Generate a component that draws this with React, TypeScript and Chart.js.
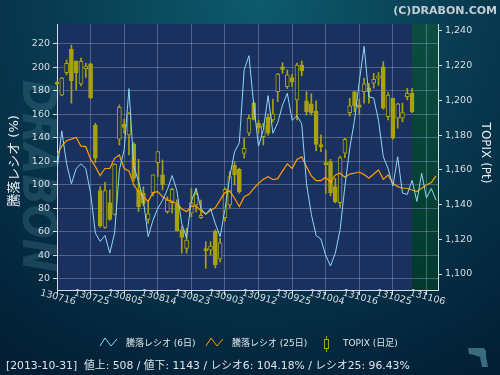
import React, { useEffect, useRef } from "react";
import { Chart, registerables } from "chart.js";
Chart.register(...registerables);

// ---- data ----
const xTickLabels = ["130716", "130725", "130805", "130814", "130823", "130903", "130912", "130925", "131004", "131016", "131025", "131106"];
const tickStep = 7;
const lastCandleIndex = 74;
const leftTicks = [20, 40, 60, 80, 100, 120, 140, 160, 180, 200, 220];
const rightTicks = [1100, 1120, 1140, 1160, 1180, 1200, 1220, 1240];

const topixOpen = [1210.3, 1203.0, 1216.0, 1229.5, 1222.5, 1209.5, 1218.3, 1221.0, 1185.7, 1148.0, 1126.9, 1141.1, 1134.3, 1177.6, 1186.4, 1180.1, 1174.9, 1148.4, 1146.5, 1131.5, 1146.5, 1164.1, 1157.1, 1135.9, 1141.1, 1140.2, 1125.4, 1114.8, 1135.0, 1139.8, 1132.5, 1114.6, 1113.8, 1124.6, 1108.5, 1132.4, 1139.8, 1162.8, 1160.3, 1169.5, 1181.1, 1198.4, 1186.8, 1179.1, 1190.3, 1188.7, 1205.0, 1219.4, 1207.9, 1213.1, 1200.3, 1220.4, 1199.7, 1198.0, 1193.9, 1174.3, 1164.1, 1164.7, 1150.3, 1141.1, 1169.6, 1192.9, 1205.0, 1197.4, 1205.0, 1207.3, 1209.9, 1212.8, 1219.4, 1190.6, 1201.2, 1189.7, 1189.7, 1202.2, 1204.1];
const topixClose = [1209.3, 1212.8, 1221.4, 1211.4, 1216.0, 1222.5, 1219.8, 1201.6, 1166.7, 1127.7, 1148.0, 1131.5, 1163.2, 1196.0, 1184.5, 1192.2, 1155.1, 1138.8, 1140.7, 1134.6, 1157.1, 1170.5, 1151.3, 1142.6, 1148.8, 1125.0, 1121.1, 1119.6, 1141.1, 1146.1, 1133.8, 1113.4, 1116.1, 1105.2, 1118.0, 1148.8, 1156.1, 1157.1, 1147.4, 1172.4, 1189.7, 1189.1, 1184.0, 1185.3, 1181.1, 1192.2, 1215.1, 1217.9, 1214.7, 1210.8, 1220.4, 1217.1, 1193.5, 1193.0, 1174.7, 1173.4, 1163.0, 1146.9, 1141.7, 1167.0, 1177.6, 1196.8, 1196.8, 1196.0, 1209.5, 1205.0, 1212.2, 1214.1, 1195.5, 1203.1, 1178.2, 1198.0, 1193.0, 1204.1, 1193.5];
const topixHigh = [1210.8, 1213.3, 1223.3, 1231.9, 1222.8, 1224.3, 1221.4, 1221.5, 1186.8, 1150.3, 1152.8, 1148.4, 1163.5, 1197.4, 1189.1, 1193.0, 1175.7, 1166.1, 1150.3, 1141.7, 1157.2, 1170.6, 1165.7, 1144.5, 1149.5, 1142.8, 1127.3, 1126.3, 1149.2, 1149.2, 1142.6, 1118.6, 1118.6, 1125.5, 1120.6, 1149.6, 1159.0, 1164.7, 1161.0, 1178.2, 1191.6, 1199.3, 1188.7, 1186.8, 1192.2, 1200.7, 1215.6, 1221.7, 1217.5, 1215.0, 1221.5, 1222.7, 1205.0, 1203.8, 1199.7, 1180.1, 1171.5, 1166.0, 1155.1, 1168.0, 1178.2, 1201.2, 1205.2, 1200.7, 1212.8, 1209.8, 1215.6, 1216.1, 1222.3, 1204.5, 1201.2, 1198.4, 1198.4, 1207.0, 1207.0];
const topixLow = [1208.8, 1202.7, 1214.7, 1198.4, 1206.0, 1208.3, 1213.3, 1201.0, 1164.1, 1126.9, 1126.3, 1131.0, 1134.0, 1174.3, 1181.0, 1168.6, 1153.4, 1136.0, 1139.4, 1129.2, 1145.0, 1156.1, 1148.4, 1135.0, 1135.0, 1124.8, 1112.0, 1112.0, 1133.0, 1135.7, 1132.0, 1103.3, 1111.0, 1103.5, 1107.0, 1130.4, 1138.0, 1151.3, 1146.5, 1166.7, 1179.7, 1188.7, 1181.1, 1174.3, 1180.0, 1187.6, 1199.3, 1215.6, 1206.8, 1208.0, 1188.7, 1214.1, 1191.6, 1191.6, 1170.9, 1170.5, 1146.5, 1145.0, 1141.0, 1138.4, 1167.0, 1191.0, 1193.5, 1192.0, 1198.4, 1198.4, 1207.0, 1208.7, 1195.0, 1188.7, 1177.6, 1184.0, 1187.6, 1200.3, 1193.0];

const ratio6 = [112, 146, 118, 101, 114, 118, 114, 93, 59, 52, 57, 42, 59, 113, 130, 182, 116, 103, 87, 56, 70, 80, 87, 96, 108, 95, 67, 55, 86, 97, 80, 75, 80, 67, 56, 79, 107, 128, 136, 198, 210, 168, 133, 147, 176, 144, 153, 168, 178, 155, 159, 152, 101, 75, 57, 54, 40, 31, 42, 62, 99, 131, 155, 188, 218, 175, 174, 155, 124, 114, 99, 124, 93, 92, 104, 86, 110, 89, 97, 87];
const ratio25 = [125.5, 133, 137.7, 139, 140.5, 133, 132.6, 122, 115.6, 108, 114, 114, 122.7, 125.5, 114, 112, 100, 94.4, 90, 86, 93.5, 94.4, 90, 87.3, 86, 84, 79.6, 77.3, 82, 82, 78, 75.3, 78.2, 80.7, 87.3, 93.5, 95, 88.7, 81.6, 90, 92, 97, 101.4, 104.8, 107, 104.5, 105.4, 112, 118, 114, 121.8, 124, 115.6, 107.7, 103.7, 103.7, 106.5, 102.3, 108.5, 110, 106.5, 109.3, 110, 111, 108.8, 105.7, 109.3, 112.7, 104.8, 108.5, 101.4, 98.6, 97.2, 97.2, 95.7, 94.4, 97.2, 100, 102, 107.7];

const legendLabels = ["騰落レシオ (6日)", "騰落レシオ (25日)", "TOPIX (日足)"];
const leftTitle = "騰落レシオ (%)";
const rightTitle = "TOPIX (Pt)";
const copyright = "(C)DRABON.COM";
const watermark = "DRABON";
const summary = "[2013-10-31]  値上: 508 / 値下: 1143 / レシオ6: 104.18% / レシオ25: 96.43%";

// ---- styles ----
const FONT = '"DejaVu Sans", "Noto Sans CJK JP", sans-serif';
const PLOT_BG = "#1a3160";
const CANDLE = "#aaa20a";
const BLUE = "#8ed6f4";
const ORANGE = "#ff9c00";
const AXIS = "#d6dce6";
const GRID = "rgba(140,160,200,0.45)";
const TICK_TEXT = "#d8dee6";

const bgPlugin = {
  id: "bgPlugin",
  beforeDraw(chart: any) {
    const { ctx, chartArea: ca, width, height } = chart;
    ctx.save();
    const g = ctx.createRadialGradient(260, 0, 0, 260, 0, 430);
    g.addColorStop(0, "#0d5b6c");
    g.addColorStop(0.5, "#083a50");
    g.addColorStop(1, "#021f35");
    ctx.fillStyle = g;
    ctx.fillRect(0, 0, width, height);

    ctx.save();
    ctx.translate(35, 176);
    ctx.rotate(Math.PI / 2);
    ctx.scale(0.865, 1);
    ctx.font = `italic bold 46px ${FONT}`;
    ctx.fillStyle = "rgba(70,120,140,0.33)";
    ctx.textAlign = "center";
    ctx.textBaseline = "middle";
    ctx.fillText(watermark, 0, 0);
    ctx.restore();

    ctx.fillStyle = PLOT_BG;
    ctx.fillRect(ca.left, ca.top, ca.right - ca.left, ca.bottom - ca.top);
    const xs = chart.scales.x;
    const gx = Math.round(xs.getPixelForValue(lastCandleIndex));
    const gg = ctx.createLinearGradient(0, ca.top, 0, ca.bottom);
    gg.addColorStop(0, "#0b4d3f");
    gg.addColorStop(1, "#03392d");
    ctx.fillStyle = gg;
    ctx.fillRect(gx, ca.top, ca.right - gx, ca.bottom - ca.top);
    ctx.restore();
  },
  afterDraw(chart: any) {
    const { ctx } = chart;
    const xs = chart.scales.x;
    ctx.save();
    // copyright
    ctx.font = `bold 11px ${FONT}`;
    ctx.fillStyle = "#c5ccd3";
    ctx.textAlign = "right";
    ctx.textBaseline = "alphabetic";
    ctx.fillText(copyright, 497, 14);

    // axis titles
    ctx.fillStyle = "#e8eef2";
    ctx.textAlign = "center";
    ctx.textBaseline = "middle";
    ctx.save();
    ctx.translate(15, 161);
    ctx.rotate(-Math.PI / 2);
    ctx.font = `13px ${FONT}`;
    ctx.fillText(leftTitle, 0, 0);
    ctx.restore();
    ctx.save();
    ctx.translate(485, 153);
    ctx.rotate(Math.PI / 2);
    ctx.font = `12px ${FONT}`;
    ctx.fillText(rightTitle, 0, 0);
    ctx.restore();

    // x labels (rotated)
    ctx.font = `9.5px ${FONT}`;
    ctx.fillStyle = TICK_TEXT;
    xTickLabels.forEach((lab, k) => {
      const px = xs.getPixelForValue(k * tickStep);
      ctx.save();
      ctx.translate(px + 1, 297.5);
      ctx.rotate((15 * Math.PI) / 180);
      ctx.fillText(lab, 0, 0);
      ctx.restore();
    });

    // legend
    ctx.font = `9px ${FONT}`;
    ctx.textAlign = "left";
    ctx.fillStyle = "#dfe5ea";
    ctx.lineWidth = 1;
    ctx.strokeStyle = BLUE;
    ctx.beginPath();
    ctx.moveTo(100, 346); ctx.lineTo(105, 338); ctx.lineTo(111, 346); ctx.lineTo(117, 339);
    ctx.stroke();
    ctx.fillText(legendLabels[0], 126, 344);
    ctx.strokeStyle = ORANGE;
    ctx.beginPath();
    ctx.moveTo(206, 346); ctx.lineTo(211, 338); ctx.lineTo(217, 346); ctx.lineTo(223, 339);
    ctx.stroke();
    ctx.fillText(legendLabels[1], 232, 344);
    ctx.strokeStyle = CANDLE;
    ctx.beginPath();
    ctx.moveTo(326.5, 336); ctx.lineTo(326.5, 352);
    ctx.stroke();
    ctx.fillStyle = "#0a2a40";
    ctx.fillRect(324, 339, 5, 10);
    ctx.strokeRect(324.5, 339.5, 4, 9);
    ctx.fillStyle = "#dfe5ea";
    ctx.fillText(legendLabels[2], 343, 344);

    // summary line
    ctx.font = `10.8px ${FONT}`;
    ctx.fillText(summary, 6, 366);

    // small logo mark
    ctx.fillStyle = "#3c6b7f";
    ctx.beginPath();
    ctx.moveTo(468, 348); ctx.lineTo(484, 348); ctx.lineTo(486, 351); ctx.lineTo(486, 356);
    ctx.lineTo(488, 367); ctx.lineTo(482, 367); ctx.lineTo(480, 357); ctx.lineTo(474, 355); ctx.lineTo(469, 354);
    ctx.closePath();
    ctx.fill();
    ctx.restore();
  },
};

export default function App() {
  const ref = useRef<HTMLCanvasElement | null>(null);
  useEffect(() => {
    if (!ref.current) return;
    const idx = topixOpen.map((_, i) => i);
    const chart = new Chart(ref.current, {
      type: "bar",
      data: {
        datasets: [
          {
            type: "line",
            data: ratio6.map((v, i) => ({ x: i, y: v })),
            yAxisID: "y",
            borderColor: BLUE,
            borderWidth: 1,
            pointRadius: 0,
            tension: 0,
            order: 0,
          } as any,
          {
            type: "line",
            data: ratio25.map((v, i) => ({ x: i, y: v })),
            yAxisID: "y",
            borderColor: ORANGE,
            borderWidth: 1.2,
            pointRadius: 0,
            tension: 0,
            order: 1,
          } as any,
          {
            type: "bar",
            data: idx.map((i) => ({ x: i, y: [topixOpen[i], topixClose[i]] })),
            yAxisID: "yR",
            backgroundColor: idx.map((i) => (topixClose[i] >= topixOpen[i] ? PLOT_BG : CANDLE)),
            borderColor: CANDLE,
            borderWidth: 1,
            borderSkipped: false,
            barThickness: 4,
            minBarLength: 2,
            grouped: false,
            clip: false,
            order: 2,
          } as any,
          {
            type: "bar",
            data: idx.map((i) => ({ x: i, y: [topixLow[i], topixHigh[i]] })),
            yAxisID: "yR",
            backgroundColor: CANDLE,
            borderWidth: 0,
            barThickness: 1,
            grouped: false,
            clip: false,
            order: 3,
          } as any,
        ],
      },
      options: {
        animation: false,
        responsive: false,
        events: [],
        layout: { padding: { top: 24, bottom: 79, left: 0, right: 0 } },
        plugins: { legend: { display: false }, tooltip: { enabled: false } },
        scales: {
          x: {
            type: "linear",
            min: 0,
            max: 79.4,
            offset: false,
            ticks: { display: false },
            afterBuildTicks: (s: any) => {
              s.ticks = xTickLabels.map((_, k) => ({ value: k * tickStep }));
            },
            afterFit: (s: any) => {
              s.height = 6;
            },
            grid: { color: GRID, tickColor: AXIS, tickLength: 5, offset: false },
            border: { color: AXIS },
          },
          y: {
            type: "linear",
            position: "left",
            min: 10.6,
            max: 237,
            afterBuildTicks: (s: any) => {
              s.ticks = leftTicks.map((v) => ({ value: v }));
            },
            afterFit: (s: any) => {
              s.width = 57;
            },
            ticks: { color: TICK_TEXT, font: { family: FONT, size: 9.5 }, padding: 3 },
            grid: { color: GRID, tickColor: AXIS, tickLength: 4 },
            border: { color: AXIS },
          },
          yR: {
            type: "linear",
            position: "right",
            min: 1090.8,
            max: 1244,
            afterBuildTicks: (s: any) => {
              s.ticks = rightTicks.map((v) => ({ value: v }));
            },
            afterFit: (s: any) => {
              s.width = 62;
            },
            ticks: {
              color: TICK_TEXT,
              font: { family: FONT, size: 9.5 },
              padding: 3,
              callback: (v: any) => Number(v).toLocaleString("en-US"),
            },
            grid: { drawOnChartArea: false, tickColor: AXIS, tickLength: 4 },
            border: { color: AXIS },
          },
        },
      } as any,
      plugins: [bgPlugin],
    });
    return () => chart.destroy();
  }, []);
  return (
    <div style={{ position: "fixed", left: 0, top: 0, width: 500, height: 375 }}>
      <canvas ref={ref} width={500} height={375} style={{ display: "block" }} />
    </div>
  );
}
